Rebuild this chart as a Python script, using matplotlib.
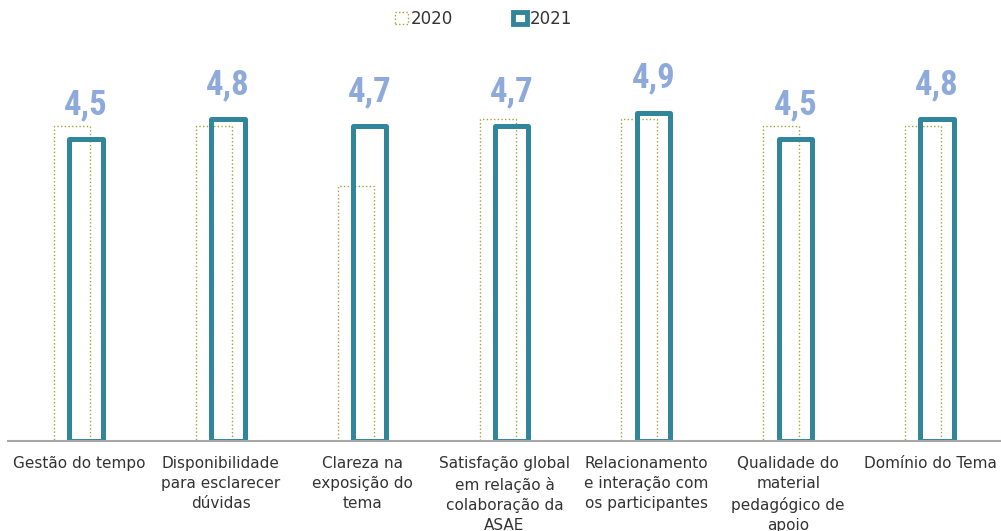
import numpy as np
import matplotlib.pyplot as plt
from matplotlib.patches import Patch

categorias = [
    "Gestão do tempo",
    "Disponibilidade\npara esclarecer\ndúvidas",
    "Clareza na\nexposição do\ntema",
    "Satisfação global\nem relação à\ncolaboração da\nASAE",
    "Relacionamento\ne interação com\nos participantes",
    "Qualidade do\nmaterial\npedagógico de\napoio",
    "Domínio do Tema",
]
valores_2020 = [4.7, 4.7, 3.8, 4.8, 4.8, 4.7, 4.7]
valores_2021 = [4.5, 4.8, 4.7, 4.7, 4.9, 4.5, 4.8]
rotulos_2021 = ["4,5", "4,8", "4,7", "4,7", "4,9", "4,5", "4,8"]

COR_2020 = "#a3a335"
COR_2021 = "#31869b"
COR_ROTULO = "#8eaadb"
COR_TEXTO = "#333333"

fig = plt.figure(figsize=(10.01, 5.31), dpi=100)
ax = fig.add_axes([0.008, 0.1695, 0.992, 0.694])

x = np.arange(len(categorias))

ax.bar(x - 0.049, valores_2020, width=0.254, facecolor="none",
       edgecolor=COR_2020, linestyle=":", linewidth=1.0, zorder=2)
barras = ax.bar(x + 0.05, valores_2021, width=0.235, facecolor="none",
                edgecolor=COR_2021, linewidth=3.6, joinstyle="round", zorder=3)

for b, r in zip(barras, rotulos_2021):
    ax.annotate(r, (b.get_x() + b.get_width() / 2, b.get_height()),
                xytext=(0, 13), textcoords="offset points",
                ha="center", va="bottom", fontsize=25, fontweight="bold",
                color=COR_ROTULO, family=["Roboto Condensed", "Roboto", "DejaVu Sans"])

ax.set_xlim(-0.5, 6.5)
ax.set_ylim(0, 5.5)
ax.set_yticks([])
ax.set_xticks(x)
ax.set_xticklabels(categorias, fontsize=11, color=COR_TEXTO, linespacing=1.42)
ax.tick_params(axis="x", length=0, pad=11)
for s in ["top", "right", "left"]:
    ax.spines[s].set_visible(False)
ax.spines["bottom"].set_color("#a6a6a6")
ax.spines["bottom"].set_linewidth(1.5)
ax.spines["bottom"].set_zorder(4)

handles = [
    Patch(facecolor="none", edgecolor=COR_2020, linestyle=":", linewidth=1.0, label="2020"),
    Patch(facecolor="white", edgecolor=COR_2021, linewidth=3.5, label="2021"),
]
fig.legend(handles=handles, loc="upper center", bbox_to_anchor=(0.483, 1.01), ncol=2,
           frameon=False, fontsize=12, handlelength=0.8, handleheight=0.8,
           handletextpad=0.2, columnspacing=3.6, labelcolor=COR_TEXTO)

fig.savefig("out.png", dpi=100)
